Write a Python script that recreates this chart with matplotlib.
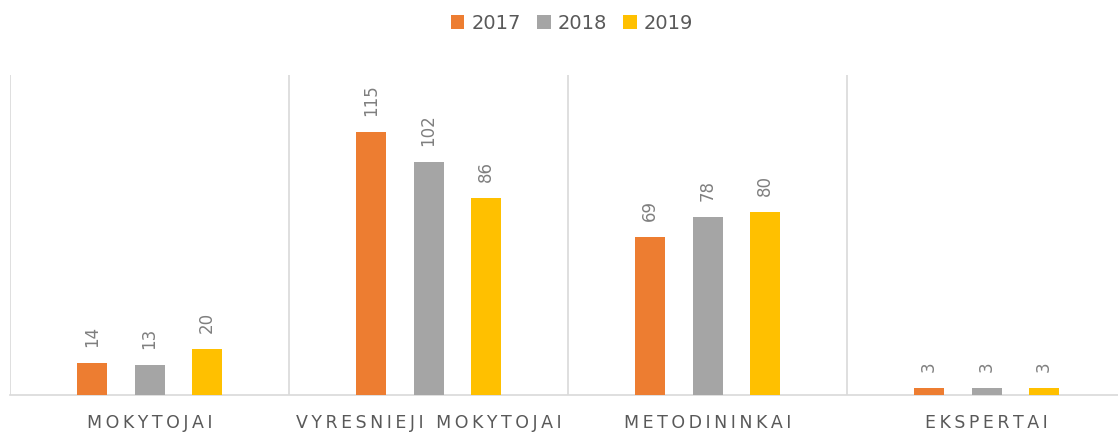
import matplotlib
matplotlib.use("Agg")
import matplotlib.pyplot as plt
import numpy as np

categories = ["MOKYTOJAI", "VYRESNIEJI MOKYTOJAI", "METODININKAI", "EKSPERTAI"]
series_names = ["2017", "2018", "2019"]
values_2017 = [14, 115, 69, 3]
values_2018 = [13, 102, 78, 3]
values_2019 = [20, 86, 80, 3]
colors = ["#ED7D31", "#A5A5A5", "#FFC000"]

W, H = 1118, 432
fig = plt.figure(figsize=(W / 100, H / 100), dpi=100)
ax = fig.add_axes([10 / W, (H - 395) / H, 1116 / W, 320 / H])

x = np.arange(len(categories))
width = 30 / 279
step = 57.5 / 279
all_vals = [values_2017, values_2018, values_2019]
for i, (name, vals, col) in enumerate(zip(series_names, all_vals, colors)):
    pos = x + (i - 1) * step
    ax.bar(pos, vals, width=width, color=col, label=name, zorder=3)
    for xp, v in zip(pos, vals):
        ax.annotate(str(v), (xp, v), xytext=(0, 16), textcoords="offset pixels",
                    rotation=90, ha="center", va="bottom", fontsize=12,
                    color="#7F7F7F")

ax.set_xlim(-0.5, len(categories) - 0.5)
ax.set_ylim(0, 140)
for b in np.arange(-0.5, len(categories), 1.0):
    ax.axvline(b, color="#D9D9D9", lw=1.2, zorder=1)

for s in ["top", "right", "left"]:
    ax.spines[s].set_visible(False)
ax.spines["bottom"].set_color("#D9D9D9")
ax.spines["bottom"].set_linewidth(1.2)
ax.set_yticks([])

spaced = ["\u2009".join(list(c)) for c in categories]
ax.set_xticks(x)
ax.set_xticklabels(spaced, fontsize=12.5, color="#595959")
ax.tick_params(axis="x", length=0, pad=14)

fig.legend(loc="upper center", bbox_to_anchor=(572 / W, 1.008), ncol=3, frameon=False,
           fontsize=14, labelcolor="#595959", handlelength=0.7, handleheight=0.7,
           handletextpad=0.35, columnspacing=0.85)

fig.savefig("out.png", dpi=100)
